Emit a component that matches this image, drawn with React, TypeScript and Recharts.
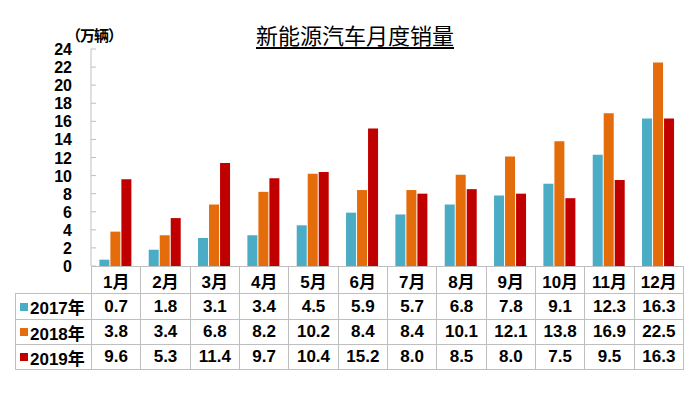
import React from 'react';
import { BarChart, Bar, XAxis, YAxis } from 'recharts';

const months = ['1月', '2月', '3月', '4月', '5月', '6月', '7月', '8月', '9月', '10月', '11月', '12月'];
const seriesNames = ['2017年', '2018年', '2019年'];
const sales2017 = [0.7, 1.8, 3.1, 3.4, 4.5, 5.9, 5.7, 6.8, 7.8, 9.1, 12.3, 16.3];
const sales2018 = [3.8, 3.4, 6.8, 8.2, 10.2, 8.4, 8.4, 10.1, 12.1, 13.8, 16.9, 22.5];
const sales2019 = [9.6, 5.3, 11.4, 9.7, 10.4, 15.2, 8.0, 8.5, 8.0, 7.5, 9.5, 16.3];
const yTicks = [0, 2, 4, 6, 8, 10, 12, 14, 16, 18, 20, 22, 24];

const COLORS = ['#4BACC6', '#E46C0A', '#C00000'];
const FONT = '"Liberation Sans", Arial, "Noto Sans CJK SC", sans-serif';
const GRID = '#BFBFBF';

const data = months.map((m, i) => ({
  month: m,
  s2017: sales2017[i],
  s2018: sales2018[i],
  s2019: sales2019[i],
}));
const rows = [sales2017, sales2018, sales2019];
const keys = ['s2017', 's2018', 's2019'];

const YTick = (props: any) => {
  const { y, payload } = props;
  return (
    <g>
      <line x1={91} x2={96} y1={y} y2={y} stroke={GRID} />
      <text x={72} y={y} dy={6} textAnchor="end" fontFamily={FONT} fontWeight="bold" fontSize={16} fill="#000">
        {payload.value}
      </text>
    </g>
  );
};

const LEFT = 15;
const FIRST_W = 76;
const COL_W = 592 / 12;
const ROW_H = [27, 26, 25, 25];

const App = () => {
  const cell = (left: number, top: number, w: number, h: number, content: React.ReactNode, align = 'center') => (
    <div
      style={{
        position: 'absolute',
        left,
        top,
        width: w,
        height: h,
        boxSizing: 'border-box',
        border: `1px solid ${GRID}`,
        display: 'flex',
        alignItems: 'center',
        justifyContent: align,
        fontFamily: FONT,
        fontWeight: 'bold',
        fontSize: 17,
        color: '#000',
      }}
    >
      {content}
    </div>
  );

  const tableCells: React.ReactNode[] = [];
  let top = 266;
  months.forEach((m, i) => {
    tableCells.push(<React.Fragment key={`h-${i}`}>{cell(LEFT + FIRST_W + i * COL_W, top, COL_W + 1, ROW_H[0] + 1, m)}</React.Fragment>);
  });
  top += ROW_H[0];
  rows.forEach((vals, r) => {
    const h = ROW_H[r + 1];
    tableCells.push(
      <React.Fragment key={`l-${r}`}>
        {cell(
          LEFT,
          top,
          FIRST_W + 1,
          h + 1,
          <span style={{ display: 'flex', alignItems: 'center' }}>
            <span style={{ display: 'inline-block', width: 8, height: 8, background: COLORS[r], marginRight: 2, marginLeft: 4 }} />
            {seriesNames[r]}
          </span>,
          'flex-start'
        )}
      </React.Fragment>
    );
    vals.forEach((v, i) => {
      tableCells.push(
        <React.Fragment key={`c-${r}-${i}`}>{cell(LEFT + FIRST_W + i * COL_W, top, COL_W + 1, h + 1, v.toFixed(1))}</React.Fragment>
      );
    });
    top += h;
  });

  return (
    <div style={{ position: 'absolute', left: 0, top: 0, width: 700, height: 396, background: '#fff' }}>
      <div
        style={{
          position: 'absolute',
          left: 0,
          width: 710,
          top: 18,
          textAlign: 'center',
          fontFamily: '"Noto Sans CJK SC", sans-serif',
          fontSize: 22,
          textDecoration: 'underline',
          textUnderlineOffset: 3,
          color: '#000',
        }}
      >
        新能源汽车月度销量
      </div>
      <div
        style={{
          position: 'absolute',
          left: 66,
          top: 24,
          fontFamily: '"Noto Sans CJK SC", sans-serif',
          fontWeight: 'bold',
          fontSize: 15,
          letterSpacing: -1,
          color: '#000',
        }}
      >
        （万辆）
      </div>
      <div style={{ position: 'absolute', left: 0, top: 0 }}>
        <BarChart
          width={700}
          height={280}
          data={data}
          margin={{ top: 49, right: 17, bottom: 14, left: 31 }}
          barCategoryGap="17%"
          barGap={1}
        >
          <XAxis dataKey="month" hide />
          <YAxis
            width={60}
            domain={[0, 24]}
            ticks={yTicks}
            interval={0}
            axisLine={{ stroke: GRID }}
            tickLine={false}
            tick={<YTick />}
          />
          {keys.map((k, i) => (
            <Bar key={k} dataKey={k} name={seriesNames[i]} fill={COLORS[i]} isAnimationActive={false} />
          ))}
        </BarChart>
      </div>
      {tableCells}
    </div>
  );
};

export default App;
